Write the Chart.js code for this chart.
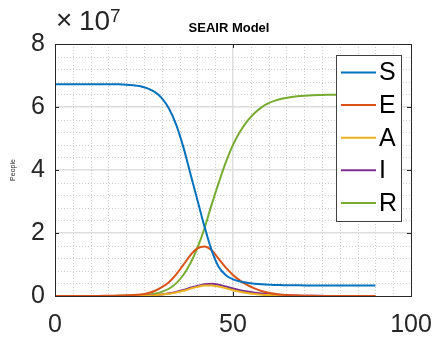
<!DOCTYPE html>
<html>
<head>
<meta charset="utf-8">
<script src="https://cdn.jsdelivr.net/npm/chart.js@4.4.1/dist/chart.umd.min.js"></script>
<style>
  html, body { margin: 0; padding: 0; background: #fff; }
  #wrap { width: 434px; height: 340px; }
</style>
</head>
<body>
<div id="wrap"><canvas id="seair" width="434" height="340"></canvas></div>
<script>
// time axis (days) and compartments, in units of 10^7 people
const days = [0, 2, 4, 6, 8, 10, 12, 14, 16, 18, 20, 22, 24, 26, 28, 30, 32, 34, 36, 38, 40, 42, 44,
  46, 48, 50, 52, 54, 56, 58, 60, 62, 64, 66, 68, 70, 72, 74, 76, 78, 80, 82, 84, 86, 88, 90];

const S = [6.72, 6.72, 6.72, 6.72, 6.72, 6.72, 6.72, 6.72, 6.72, 6.72, 6.71, 6.69, 6.66, 6.59, 6.48, 6.28,
  5.95, 5.45, 4.75, 3.9, 3.05, 2.2, 1.45, 0.92, 0.66, 0.53, 0.46, 0.42, 0.39, 0.37, 0.36, 0.35, 0.345,
  0.34, 0.34, 0.335, 0.335, 0.335, 0.33, 0.33, 0.33, 0.33, 0.33, 0.33, 0.33, 0.33];
const E = [0, 0, 0, 0, 0.001, 0.002, 0.003, 0.005, 0.008, 0.012, 0.02, 0.03, 0.05, 0.09, 0.16, 0.28,
  0.44, 0.68, 0.98, 1.29, 1.51, 1.57, 1.45, 1.18, 0.9, 0.67, 0.49, 0.35, 0.24, 0.16, 0.1, 0.065, 0.04,
  0.025, 0.015, 0.01, 0.005, 0.003, 0.002, 0.001, 0, 0, 0, 0, 0, 0];
const A = [0, 0, 0, 0, 0, 0, 0, 0, 0, 0, 0.002, 0.004, 0.008, 0.015, 0.027, 0.045,
  0.07, 0.11, 0.165, 0.23, 0.29, 0.33, 0.335, 0.3, 0.245, 0.185, 0.135, 0.095, 0.065, 0.043, 0.028, 0.018, 0.011,
  0.007, 0.004, 0.002, 0.001, 0, 0, 0, 0, 0, 0, 0, 0, 0];
const I = [0, 0, 0, 0, 0, 0, 0, 0, 0, 0, 0.002, 0.004, 0.008, 0.015, 0.028, 0.05,
  0.085, 0.13, 0.19, 0.26, 0.32, 0.375, 0.385, 0.36, 0.3, 0.24, 0.185, 0.14, 0.105, 0.08, 0.06, 0.045, 0.033,
  0.022, 0.015, 0.01, 0.007, 0.005, 0.003, 0.002, 0.001, 0.001, 0, 0, 0, 0];
const R = [0, 0, 0, 0, 0, 0, 0, 0.001, 0.002, 0.004, 0.007, 0.012, 0.02, 0.035, 0.07, 0.13,
  0.23, 0.4, 0.66, 1.03, 1.53, 2.15, 2.9, 3.6, 4.25, 4.8, 5.22, 5.55, 5.8, 5.99, 6.12, 6.21, 6.27,
  6.31, 6.34, 6.36, 6.37, 6.38, 6.385, 6.39, 6.39, 6.39, 6.39, 6.39, 6.39, 6.39];

const xTicks = [0, 50, 100];
const yTicks = [0, 2, 4, 6, 8];

const names = ['S', 'E', 'A', 'I', 'R'];
const series = [S, E, A, I, R];
const colors = ['#0072BD', '#D95319', '#EDB120', '#7E2F8E', '#77AC30'];

const axisColor = '#262626';
const sans = 'Liberation Sans, Arial, sans-serif';
const bigFont = { family: sans, size: 25 };

const datasets = names.map((n, k) => ({
  label: n,
  data: days.map((d, i) => ({ x: d, y: series[k][i] })),
  borderColor: colors[k],
  backgroundColor: colors[k],
  borderWidth: 2,
  pointRadius: 0,
  cubicInterpolationMode: 'monotone',
  fill: false
}));

// matlab-ish extras: dotted minor grid, inward ticks, box, legend, exponent, title
const matlabAxes = {
  id: 'matlabAxes',
  beforeDatasetsDraw(chart) {
    const { ctx, chartArea: a, scales: { x, y } } = chart;
    ctx.save();
    ctx.strokeStyle = '#cfcfcf';
    ctx.lineWidth = 1;
    ctx.setLineDash([1, 2]);
    for (let v = 5; v < 100; v += 5) {
      if (v % 50 === 0) continue;
      const px = Math.round(x.getPixelForValue(v)) + 0.5;
      ctx.beginPath(); ctx.moveTo(px, a.top); ctx.lineTo(px, a.bottom); ctx.stroke();
    }
    for (let v = 0.4; v < 8; v += 0.4) {
      if (Math.abs(v / 2 - Math.round(v / 2)) < 1e-6) continue;
      const py = Math.round(y.getPixelForValue(v)) + 0.5;
      ctx.beginPath(); ctx.moveTo(a.left, py); ctx.lineTo(a.right, py); ctx.stroke();
    }
    ctx.restore();
  },
  afterDatasetsDraw(chart) {
    const { ctx, chartArea: a, scales: { x, y } } = chart;
    ctx.save();
    ctx.strokeStyle = axisColor;
    ctx.lineWidth = 1;
    ctx.setLineDash([]);
    // inward ticks
    xTicks.forEach(v => {
      const px = Math.round(x.getPixelForValue(v)) + 0.5;
      ctx.beginPath();
      ctx.moveTo(px, a.bottom); ctx.lineTo(px, a.bottom - 4);
      ctx.moveTo(px, a.top); ctx.lineTo(px, a.top + 4);
      ctx.stroke();
    });
    yTicks.forEach(v => {
      const py = Math.round(y.getPixelForValue(v)) + 0.5;
      ctx.beginPath();
      ctx.moveTo(a.left, py); ctx.lineTo(a.left + 4, py);
      ctx.moveTo(a.right, py); ctx.lineTo(a.right - 4, py);
      ctx.stroke();
    });
    ctx.strokeRect(Math.round(a.left) + 0.5, Math.round(a.top) + 0.5,
      Math.round(a.right - a.left), Math.round(a.bottom - a.top));

    // legend box
    const lx = 336, ly = 55, lw = 65, lh = 166;
    ctx.fillStyle = '#fff';
    ctx.fillRect(lx, ly, lw, lh);
    ctx.strokeStyle = '#404040';
    ctx.strokeRect(lx + 0.5, ly + 0.5, lw, lh);
    ctx.font = '25px ' + sans;
    ctx.textBaseline = 'middle';
    ctx.textAlign = 'left';
    chart.data.datasets.forEach((ds, i) => {
      const ry = 72.5 + i * 32.6;
      ctx.strokeStyle = ds.borderColor;
      ctx.lineWidth = 2;
      ctx.beginPath(); ctx.moveTo(341, ry); ctx.lineTo(376, ry); ctx.stroke();
      ctx.fillStyle = '#000';
      ctx.fillText(ds.label, 379, ry + 1);
    });

    // exponent and title
    ctx.fillStyle = axisColor;
    ctx.textBaseline = 'alphabetic';
    ctx.font = '28px ' + sans;
    ctx.fillText('\u00d7', 56, 29);
    ctx.fillText('10', 79, 30);
    ctx.font = '19px ' + sans;
    ctx.fillText('7', 110, 22);
    ctx.fillStyle = '#000';
    ctx.font = 'bold 13px ' + sans;
    ctx.textAlign = 'center';
    ctx.fillText('SEAIR Model', 229, 32);
    ctx.restore();
  }
};

const ctx = document.getElementById('seair').getContext('2d');
const chart = new Chart(ctx, {
  type: 'line',
  data: { datasets: datasets },
  options: {
    responsive: false,
    animation: false,
    layout: { padding: { left: 0, top: 44, right: 23, bottom: 0 } },
    plugins: {
      legend: { display: false },
      tooltip: { enabled: false }
    },
    scales: {
      x: {
        type: 'linear',
        min: 0,
        max: 100,
        afterFit: s => { s.height = 44; s.paddingLeft = 0; s.paddingRight = 0; },
        afterBuildTicks: s => { s.ticks = xTicks.map(v => ({ value: v })); },
        ticks: { font: bigFont, color: axisColor, padding: 14, maxRotation: 0, autoSkip: false },
        grid: {
          drawTicks: false,
          lineWidth: 1.5,
          color: c => (c.tick && (c.tick.value === 0 || c.tick.value === 100)) ? 'rgba(0,0,0,0)' : '#dedede'
        },
        border: { display: false }
      },
      y: {
        min: 0,
        max: 8,
        afterFit: s => { s.width = 55; s.paddingTop = 0; s.paddingBottom = 0; },
        afterBuildTicks: s => { s.ticks = yTicks.map(v => ({ value: v })); },
        ticks: { font: bigFont, color: axisColor, padding: 10 },
        title: {
          display: true,
          text: 'People',
          color: axisColor,
          font: { family: sans, size: 7 },
          padding: { top: 9, bottom: 0 }
        },
        grid: {
          drawTicks: false,
          lineWidth: 1.5,
          color: c => (c.tick && (c.tick.value === 0 || c.tick.value === 8)) ? 'rgba(0,0,0,0)' : '#dedede'
        },
        border: { display: false }
      }
    }
  },
  plugins: [matlabAxes]
});
</script>
</body>
</html>
